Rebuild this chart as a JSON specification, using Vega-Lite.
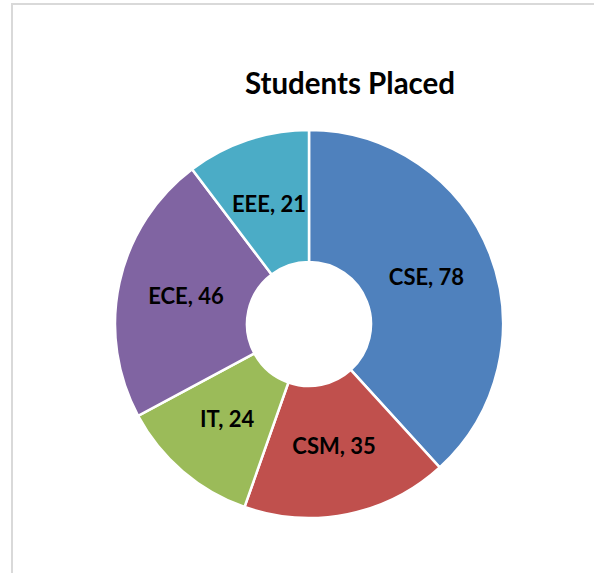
{
  "$schema": "https://vega.github.io/schema/vega-lite/v6.json",
  "autosize": "none",
  "padding": {"left": 12, "top": 4, "right": 0, "bottom": 0},
  "width": 594,
  "height": 640,
  "background": "white",
  "view": {"stroke": "#d9d9d9", "strokeWidth": 2, "fill": "white"},
  "title": {
    "text": "Students Placed",
    "font": "Lato",
    "fontSize": 29.5,
    "fontWeight": "bold",
    "color": "#000000",
    "anchor": "middle",
    "orient": "top",
    "offset": -96,
    "dx": 41
  },
  "data": {
    "values": [
      {"dept": "CSE", "value": 78, "order": 1},
      {"dept": "CSM", "value": 35, "order": 2},
      {"dept": "IT", "value": 24, "order": 3},
      {"dept": "ECE", "value": 46, "order": 4},
      {"dept": "EEE", "value": 21, "order": 5}
    ]
  },
  "transform": [{"calculate": "datum.dept + ', ' + datum.value", "as": "label"}],
  "encoding": {
    "theta": {"field": "value", "type": "quantitative", "stack": true},
    "order": {"field": "order", "type": "quantitative"},
    "color": {
      "field": "dept",
      "type": "nominal",
      "sort": null,
      "scale": {
        "domain": ["CSE", "CSM", "IT", "ECE", "EEE"],
        "range": ["#4F81BD", "#C0504D", "#9BBB59", "#8064A2", "#4BACC6"]
      },
      "legend": null
    }
  },
  "layer": [
    {
      "mark": {"type": "arc", "outerRadius": 194, "innerRadius": 62, "stroke": "white", "strokeWidth": 2.5}
    },
    {
      "mark": {"type": "text", "radius": 126, "font": "Lato", "fontSize": 22, "fontWeight": "bold", "fill": "#000000"},
      "encoding": {"text": {"field": "label"}}
    }
  ]
}
